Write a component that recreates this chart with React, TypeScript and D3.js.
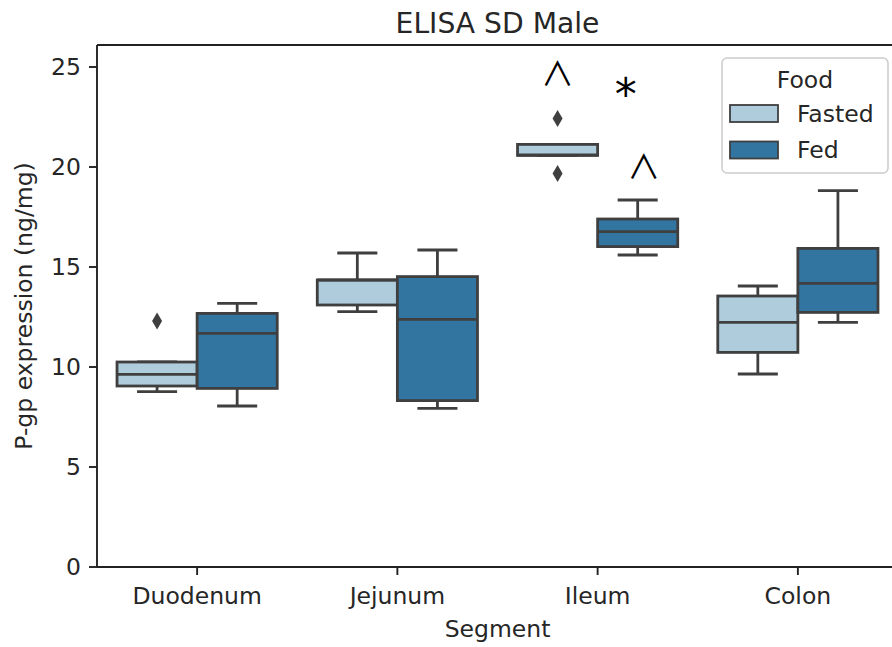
import React from "react";
import * as d3 from "d3";

// ---------- data ----------
const segments = ["Duodenum", "Jejunum", "Ileum", "Colon"];
const groups = ["Fasted", "Fed"];
// [whiskerLow, q1, median, q3, whiskerHigh] per segment
const fastedStats = [
  [8.77, 9.05, 9.63, 10.25, 10.25],
  [12.77, 13.1, 14.35, 14.35, 15.7],
  [20.58, 20.58, 20.6, 21.13, 21.13],
  [9.65, 10.73, 12.23, 13.55, 14.05],
];
const fedStats = [
  [8.05, 8.93, 11.68, 12.68, 13.18],
  [7.93, 8.32, 12.38, 14.52, 15.85],
  [15.6, 16.02, 16.77, 17.4, 18.35],
  [12.23, 12.73, 14.18, 15.93, 18.82],
];
const fastedOutliers = [[12.3], [], [22.43, 19.68], []];
const fedOutliers = [[], [], [], []];
const yTicks = [0, 5, 10, 15, 20, 25];
// annotations: label, segment, offset within band (0..1), value at baseline
const annotLabels = ["∧", "*", "∧"];
const annotSegments = ["Ileum", "Ileum", "Ileum"];
const annotOffsets = [0.3, 0.64, 0.73];
const annotValues = [24.1, 22.85, 19.45];

const groupColors = ["#aeccdb", "#3275a1"];
const LINE = "#3f3f3f";
const FONT = "DejaVu Sans, sans-serif";

export default function App() {
  const W = 892, H = 647;
  const left = 97, right = 898, top = 45, bottom = 567;
  const x = d3.scaleBand<string>().domain(segments).range([left, right]);
  const y = d3.scaleLinear().domain([0, 26.1]).range([bottom, top]);
  const bw = x.bandwidth() * 0.8;
  const boxW = bw / 2;
  const sub = d3.scaleBand<string>().domain(groups).range([0, bw]);

  const allStats = [fastedStats, fedStats];
  const allOut = [fastedOutliers, fedOutliers];

  const diamond = (cx: number, cy: number) =>
    `M${cx},${cy - 8.5}L${cx + 5},${cy}L${cx},${cy + 8.5}L${cx - 5},${cy}Z`;

  return (
    <svg width={W} height={H} style={{ position: "absolute", left: 0, top: 0, background: "#fff" }}
      fontFamily={FONT}>
      <rect x={0} y={0} width={W} height={H} fill="#fff" />
      {/* boxes */}
      {segments.map((seg, si) =>
        groups.map((g, gi) => {
          const [lo, q1, med, q3, hi] = allStats[gi][si];
          const x0 = (x(seg) as number) + (x.bandwidth() - bw) / 2 + (sub(g) as number);
          const cx = x0 + boxW / 2;
          const capHalf = boxW / 4;
          return (
            <g key={seg + g}>
              <line x1={cx} x2={cx} y1={y(q3)} y2={y(hi)} stroke={LINE} strokeWidth={2.8} />
              <line x1={cx} x2={cx} y1={y(q1)} y2={y(lo)} stroke={LINE} strokeWidth={2.8} />
              <line x1={cx - capHalf} x2={cx + capHalf} y1={y(hi)} y2={y(hi)} stroke={LINE} strokeWidth={2.8} />
              <line x1={cx - capHalf} x2={cx + capHalf} y1={y(lo)} y2={y(lo)} stroke={LINE} strokeWidth={2.8} />
              <rect x={x0} y={y(q3)} width={boxW} height={y(q1) - y(q3)} fill={groupColors[gi]}
                stroke={LINE} strokeWidth={2.8} />
              <line x1={x0} x2={x0 + boxW} y1={y(med)} y2={y(med)} stroke={LINE} strokeWidth={2.8} />
              {allOut[gi][si].map((v, k) => (
                <path key={k} d={diamond(cx, y(v))} fill={LINE} />
              ))}
            </g>
          );
        })
      )}
      {/* annotations */}
      {annotLabels.map((lab, i) => {
        const ax = (x(annotSegments[i]) as number) + x.bandwidth() * annotOffsets[i];
        return lab === "*" ? (
          <text key={i} x={ax} y={y(annotValues[i])} textAnchor="middle" fontSize={44} fill="#000">{lab}</text>
        ) : (
          <text key={i} x={ax} y={y(annotValues[i])} dy={1} textAnchor="middle" fontSize={33} fontWeight={400}
            fontFamily="Noto Sans CJK SC, DejaVu Sans" fill="#000">{lab}</text>
        );
      })}
      {/* frame */}
      <line x1={left} x2={left} y1={top} y2={bottom} stroke="#222" strokeWidth={1.9} />
      <line x1={left} x2={right} y1={bottom} y2={bottom} stroke="#222" strokeWidth={1.9} />
      <line x1={left} x2={right} y1={top} y2={top} stroke="#222" strokeWidth={1.9} />
      <line x1={right} x2={right} y1={top} y2={bottom} stroke="#222" strokeWidth={1.9} />
      {/* y ticks */}
      {yTicks.map((t) => (
        <g key={t}>
          <line x1={left - 8} x2={left} y1={y(t)} y2={y(t)} stroke="#222" strokeWidth={1.9} />
          <text x={81} y={y(t)} dy="0.36em" textAnchor="end" fontSize={23.5} fill="#262626">{t}</text>
        </g>
      ))}
      {/* x ticks */}
      {segments.map((s) => {
        const cx = (x(s) as number) + x.bandwidth() / 2;
        return (
          <g key={s}>
            <line x1={cx} x2={cx} y1={bottom} y2={bottom + 8} stroke="#222" strokeWidth={1.9} />
            <text x={cx} y={604} textAnchor="middle" fontSize={23.5} fill="#262626">{s}</text>
          </g>
        );
      })}
      {/* labels */}
      <text x={(left + right) / 2} y={637} textAnchor="middle" fontSize={23.5} fill="#262626">Segment</text>
      <text transform={`translate(32,${(top + bottom) / 2}) rotate(-90)`} textAnchor="middle" fontSize={23.5}
        fill="#262626">P-gp expression (ng/mg)</text>
      <text x={(left + right) / 2} y={33} textAnchor="middle" fontSize={28.2} fill="#262626">ELISA SD Male</text>
      {/* legend */}
      <g>
        <rect x={722} y={58} width={166} height={115} rx={5} fill="#fff" fillOpacity={0.8} stroke="#cccccc"
          strokeWidth={1.5} />
        <text x={805} y={88} textAnchor="middle" fontSize={23.5} fill="#262626">Food</text>
        {groups.map((g, i) => (
          <g key={g}>
            <rect x={730} y={105 + i * 36.5} width={48} height={17} fill={groupColors[i]} stroke={LINE}
              strokeWidth={1.8} />
            <text x={797} y={122 + i * 36} fontSize={23.5} fill="#262626">{g}</text>
          </g>
        ))}
      </g>
    </svg>
  );
}
